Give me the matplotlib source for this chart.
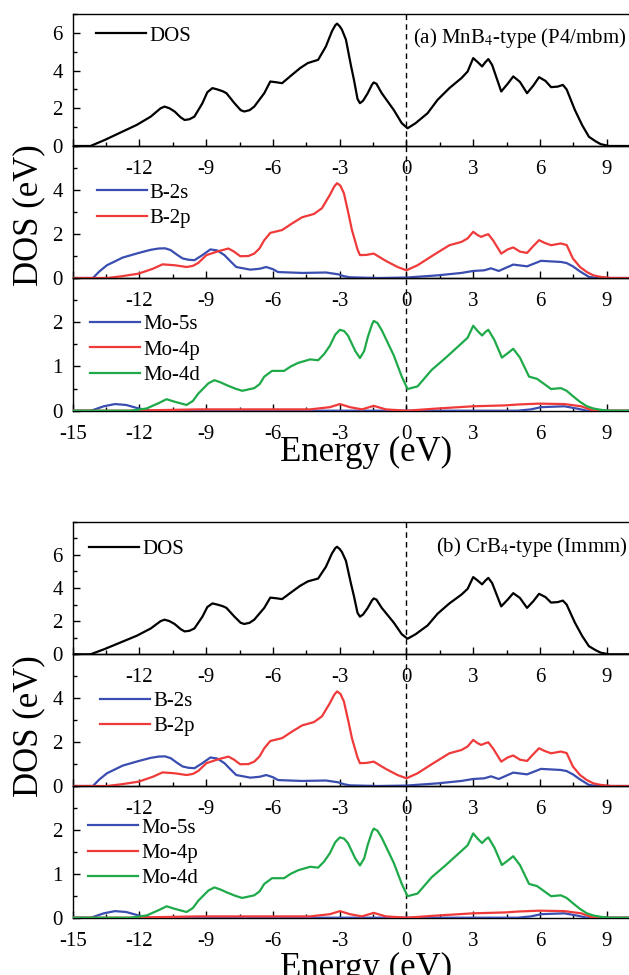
import matplotlib
matplotlib.use("Agg")
import matplotlib.pyplot as plt
from matplotlib.ticker import MultipleLocator, FixedLocator, FuncFormatter

plt.rcParams['font.family'] = ['Liberation Serif', 'DejaVu Serif']
plt.rcParams['mathtext.fontset'] = 'stix'
plt.rcParams['axes.unicode_minus'] = False

# ---------------- data ----------------
dos_E = [-15, -14.2, -13.9, -13.56, -12.93, -12.12, -11.49, -11.05, -10.87, -10.65, -10.42, -10.15, -9.97,
         -9.75, -9.53, -9.17, -8.95, -8.72, -8.5, -8.25, -8.09, -7.73, -7.45, -7.29, -7.05, -6.84, -6.39,
         -6.12, -5.85, -5.59, -5.23, -4.78, -4.43, -3.97, -3.62, -3.35, -3.2, -3.12, -3.0, -2.9, -2.72,
         -2.5, -2.36, -2.2, -2.09, -1.95, -1.74, -1.55, -1.47, -1.35, -1.11, -0.57, -0.21, 0.05, 0.41,
         0.95, 1.40, 1.93, 2.47, 2.75, 3.0, 3.2, 3.40, 3.55, 3.68, 3.85, 4.26, 4.55, 4.80, 5.1, 5.42,
         5.7, 5.96, 6.25, 6.5, 6.8, 7.03, 7.2, 7.57, 7.9, 8.2, 8.5, 8.73, 9.1, 10.2]
dos_V = [0, 0, 0.15, 0.32, 0.67, 1.12, 1.56, 2.0, 2.09, 2.0, 1.83, 1.52, 1.38,
         1.42, 1.56, 2.27, 2.85, 3.07, 3.0, 2.9, 2.80, 2.27, 1.9, 1.83, 1.9, 2.09, 2.8,
         3.42, 3.38, 3.33, 3.69, 4.13, 4.40, 4.57, 5.28, 6.08, 6.4, 6.49, 6.35, 6.17, 5.64,
         4.3, 3.51, 2.5, 2.27, 2.4, 2.80, 3.25, 3.37, 3.3, 2.80, 1.91, 1.21, 0.94, 1.21,
         1.74, 2.45, 3.07, 3.60, 3.95, 4.66, 4.45, 4.22, 4.45, 4.61, 4.3, 2.89, 3.3, 3.69, 3.4, 2.80,
         3.2, 3.65, 3.45, 3.12, 3.15, 3.24, 3.0, 1.91, 1.1, 0.49, 0.25, 0.1, 0, 0]

b2s_E = [-15, -14.09, -13.8, -13.46, -12.75, -12.03, -11.5, -11.14, -10.85, -10.6, -10.3, -10.06, -9.8,
         -9.53, -9.17, -8.81, -8.5, -8.18, -7.9, -7.65, -7.02, -6.6, -6.30, -6.0, -5.77, -4.69, -3.62,
         -3.08, -2.8, -2.54, -1.29, 0, 1.40, 2.47, 3.0, 3.5, 3.8, 4.15, 4.8, 5.42, 6.05, 6.94, 7.2, 7.48,
         7.8, 8.2, 8.55, 10.2]
b2s_V = [0, 0, 0.3, 0.58, 0.93, 1.14, 1.28, 1.34, 1.35, 1.27, 1.05, 0.89, 0.83,
         0.81, 1.04, 1.30, 1.25, 1.04, 0.75, 0.5, 0.38, 0.42, 0.5, 0.4, 0.27, 0.23, 0.25,
         0.17, 0.08, 0.03, 0, 0.02, 0.12, 0.23, 0.32, 0.35, 0.44, 0.32, 0.61, 0.53, 0.78, 0.73, 0.68, 0.53,
         0.3, 0.05, 0, 0]

b2p_E = [-15, -13.46, -12.8, -12.03, -11.4, -10.96, -10.42, -9.88, -9.6, -9.35, -8.99, -8.45, -8.0,
         -7.75, -7.47, -7.1, -6.84, -6.6, -6.39, -6.12, -5.59, -5.14, -4.69, -4.16, -3.80, -3.44, -3.25,
         -3.12, -2.97, -2.81, -2.6, -2.45, -2.2, -2.09, -1.8, -1.47, -0.93, -0.4, 0, 0.5, 1.21, 1.93,
         2.47, 2.75, 3.0, 3.2, 3.36, 3.55, 3.68, 3.9, 4.26, 4.55, 4.80, 5.1, 5.42, 5.7, 5.96, 6.2, 6.5,
         6.94, 7.2, 7.48, 7.8, 8.11, 8.4, 8.73, 9.2, 10.2]
b2p_V = [0, 0, 0.08, 0.2, 0.42, 0.62, 0.58, 0.50, 0.55, 0.69, 1.04, 1.22, 1.34,
         1.2, 0.99, 1.0, 1.11, 1.35, 1.72, 2.05, 2.18, 2.48, 2.76, 2.91, 3.17, 3.78, 4.15,
         4.31, 4.2, 3.85, 2.9, 2.18, 1.3, 1.04, 1.05, 1.11, 0.78, 0.5, 0.35, 0.58, 1.04, 1.49,
         1.64, 1.8, 2.1, 1.95, 1.87, 1.95, 1.99, 1.7, 1.11, 1.3, 1.39, 1.2, 1.14, 1.45, 1.72, 1.6, 1.49,
         1.57, 1.5, 0.89, 0.5, 0.27, 0.12, 0.05, 0, 0]

mo5s_E = [-15, -14.18, -13.6, -13.1, -12.6, -12.03, -11.5, 5.0, 5.6, 6.05, 7.1, 7.75, 8.1, 10.2]
mo5s_V = [0, 0, 0.1, 0.15, 0.13, 0.05, 0, 0, 0.03, 0.08, 0.1, 0.04, 0, 0]

mo4p_E = [-15, -12.5, -9.35, -4.33, -3.44, -2.99, -2.54, -2.0, -1.47, -0.93, 0, 1.4, 3.0, 4.44, 5.0,
          5.96, 7.1, 7.85, 8.4, 10.2]
mo4p_V = [0, 0, 0.03, 0.03, 0.08, 0.15, 0.08, 0.03, 0.11, 0.03, 0, 0.05, 0.1, 0.12, 0.14,
          0.16, 0.15, 0.1, 0, 0]

mo4d_E = [-15, -12.39, -11.68, -11.1, -10.78, -10.4, -9.88, -9.6, -9.35, -8.9, -8.63, -8.35, -8.09,
          -7.7, -7.38, -6.84, -6.6, -6.39, -6.04, -5.5, -5.2, -4.87, -4.33, -3.97, -3.7, -3.44, -3.2,
          -2.99, -2.8, -2.63, -2.3, -2.09, -1.9, -1.74, -1.55, -1.47, -1.3, -1.11, -0.57, -0.21, 0.05, 0.5,
          1.13, 1.75, 2.47, 2.75, 3.0, 3.2, 3.40, 3.55, 3.68, 3.95, 4.29, 4.55, 4.80, 5.1, 5.51, 5.87,
          6.2, 6.5, 6.94, 7.2, 7.48, 7.8, 8.11, 8.4, 8.73, 9.1, 10.2]
mo4d_V = [0, 0, 0.05, 0.18, 0.26, 0.2, 0.13, 0.22, 0.39, 0.62, 0.69, 0.64, 0.58,
          0.5, 0.45, 0.51, 0.6, 0.77, 0.90, 0.90, 1.0, 1.08, 1.16, 1.14, 1.28, 1.47, 1.72,
          1.83, 1.8, 1.70, 1.35, 1.19, 1.35, 1.66, 1.95, 2.03, 1.98, 1.82, 1.25, 0.77, 0.49, 0.55,
          0.92, 1.19, 1.52, 1.65, 1.92, 1.8, 1.70, 1.78, 1.83, 1.6, 1.20, 1.3, 1.40, 1.2, 0.77, 0.72,
          0.6, 0.49, 0.51, 0.45, 0.33, 0.2, 0.10, 0.05, 0.02, 0, 0]

panel_titles = ["(a) MnB$_4$-type (P4/mbm)", "(b) CrB$_4$-type (Immm)"]
x_ticks = [-15, -12, -9, -6, -3, 0, 3, 6, 9]
top_ylims = [7, 8]

BLUE = "#3a4db0"
RED = "#f03a3a"
GREEN = "#1faa4a"

# ---------------- layout ----------------
W, H = 629, 975
fig = plt.figure(figsize=(W / 100, H / 100), dpi=100)

left_px = 72.7
xmin, xmax = -15, 10.2
px_per_ev = 22.25
width_px = (xmax - xmin) * px_per_ev

panels = [
    dict(bounds=[(14, 146), (146, 278), (278, 410.7)], xlab_base=461,
         leg=[(96, 33), (96.7, 190), (90, 321.7)], title_xy=(413, 38), ylab_y=215),
    dict(bounds=[(521.7, 654.3), (654.3, 786), (786, 917.7)], xlab_base=977,
         leg=[(89, 546.7), (100, 698.3), (88, 825)], title_xy=(436, 547), ylab_y=726),
]

FS_TICK = 15
FS_LEG = 15
FS_LAB = 25


def make_ax(top, bot):
    ax = fig.add_axes([left_px / W, 1 - bot / H, width_px / W, (bot - top) / H])
    ax.set_facecolor("none")
    ax.set_xlim(xmin, xmax)
    ax.xaxis.set_major_locator(FixedLocator(x_ticks))
    ax.xaxis.set_minor_locator(MultipleLocator(1.5))
    ax.tick_params(which="both", direction="in", top=False, right=False, labelsize=FS_TICK, width=1.0)
    ax.tick_params(axis="x", which="major", length=5, pad=10)
    ax.tick_params(axis="x", which="minor", length=3)
    ax.tick_params(axis="y", which="major", length=5, pad=7)
    ax.tick_params(axis="y", which="minor", length=3)
    for sp in ax.spines.values():
        sp.set_linewidth(1.0)
    ax.axvline(0, color="black", lw=1.0, ls=(0, (4, 3)), zorder=1)
    return ax


def add_legend(ax, pos):
    x, y = pos
    leg = ax.legend(loc="upper left", bbox_to_anchor=(x / W, 1 - (y - 7) / H),
                    bbox_transform=fig.transFigure, frameon=False, fontsize=FS_LEG,
                    handlelength=2.4, handletextpad=0.15, labelspacing=0.28,
                    borderpad=0, borderaxespad=0)
    return leg


hide_m15 = FuncFormatter(lambda v, p: "" if abs(v + 15) < 1e-6 else "%d" % v)

for pi, P in enumerate(panels):
    (t0, b0), (t1, b1), (t2, b2) = P["bounds"]
    # total DOS
    ax0 = make_ax(t0, b0)
    ax0.plot(dos_E, dos_V, color="black", lw=1.6, label="DOS", zorder=3)
    ax0.set_ylim(0, top_ylims[pi])
    ax0.yaxis.set_major_locator(FixedLocator([0, 2, 4, 6]))
    ax0.yaxis.set_minor_locator(MultipleLocator(1))
    ax0.xaxis.set_major_formatter(hide_m15)
    add_legend(ax0, P["leg"][0])

    # B partial DOS
    ax1 = make_ax(t1, b1)
    ax1.plot(b2s_E, b2s_V, color=BLUE, lw=1.6, label="B-2s", zorder=3)
    ax1.plot(b2p_E, b2p_V, color=RED, lw=1.6, label="B-2p", zorder=3)
    ax1.set_ylim(0, 6)
    ax1.yaxis.set_major_locator(FixedLocator([0, 2, 4]))
    ax1.yaxis.set_minor_locator(MultipleLocator(1))
    ax1.xaxis.set_major_formatter(hide_m15)
    add_legend(ax1, P["leg"][1])

    # Mo partial DOS
    ax2 = make_ax(t2, b2)
    ax2.plot(mo5s_E, mo5s_V, color=BLUE, lw=1.6, label="Mo-5s", zorder=3)
    ax2.plot(mo4p_E, mo4p_V, color=RED, lw=1.6, label="Mo-4p", zorder=3)
    ax2.plot(mo4d_E, mo4d_V, color=GREEN, lw=1.6, label="Mo-4d", zorder=3)
    ax2.set_ylim(0, 3)
    ax2.yaxis.set_major_locator(FixedLocator([0, 1, 2]))
    ax2.yaxis.set_minor_locator(MultipleLocator(0.5))
    ax2.xaxis.set_major_formatter(FuncFormatter(lambda v, p: "%d" % v))
    add_legend(ax2, P["leg"][2])

    # panel label
    tx, ty = P["title_xy"]
    fig.text(tx / W, 1 - ty / H, panel_titles[pi], fontsize=15, ha="left", va="center")

    # axis labels
    fig.text(366 / W, 1 - P["xlab_base"] / H, "Energy (eV)", fontsize=FS_LAB, ha="center", va="baseline")
    fig.text(29 / W, 1 - P["ylab_y"] / H, "DOS (eV)", fontsize=FS_LAB, rotation=90, ha="center", va="center")

fig.savefig("out.png", dpi=100)
